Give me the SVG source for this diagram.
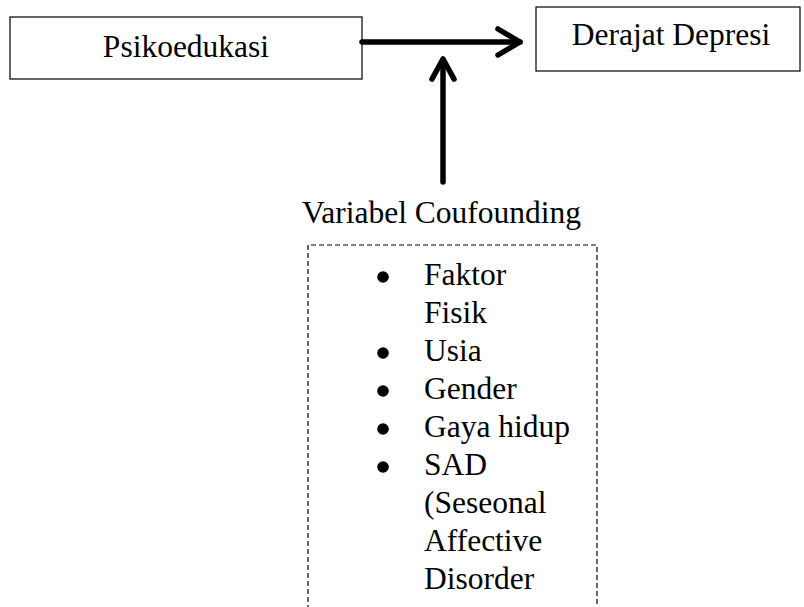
<svg xmlns="http://www.w3.org/2000/svg" width="804" height="607" viewBox="0 0 804 607">
<style>
.box{fill:#fff;stroke:#000;stroke-width:1.2}
.t{font-family:"Liberation Serif","Times New Roman",serif;font-size:31.5px;fill:#000}
.arrow{fill:none;stroke:#000;stroke-width:5.5;stroke-linecap:round;stroke-linejoin:round}
.dash{fill:none;stroke:#000;stroke-width:1.2;stroke-dasharray:5 3}
</style>
<rect width="804" height="607" fill="#fff"/>
<g id="psikoedukasi">
<rect class="box" x="10" y="17" width="352" height="62"/>
<text class="t" x="186" y="57" text-anchor="middle">Psikoedukasi</text>
</g>
<g id="derajat-depresi">
<rect class="box" x="536" y="7" width="264" height="64"/>
<text class="t" x="671" y="45" text-anchor="middle">Derajat Depresi</text>
</g>
<g id="connectors">
<line class="arrow" x1="362" y1="42" x2="520" y2="42"/>
<polyline class="arrow" points="498,29 520,42 498,55"/>
<line class="arrow" x1="443" y1="182" x2="443" y2="60"/>
<polyline class="arrow" points="432,79 443,59 454,79"/>
</g>
<g id="variabel-coufounding">
<text class="t" x="302" y="223">Variabel Coufounding</text>
<path class="dash" d="M308,610 V245 H597 V610"/>
<g fill="#000">
<circle cx="383" cy="277" r="5.8"/>
<circle cx="383" cy="353" r="5.8"/>
<circle cx="383" cy="391" r="5.8"/>
<circle cx="383" cy="429" r="5.8"/>
<circle cx="383" cy="467" r="5.8"/>
</g>
<text class="t" x="424" y="285">Faktor</text>
<text class="t" x="424" y="323">Fisik</text>
<text class="t" x="424" y="361">Usia</text>
<text class="t" x="424" y="399">Gender</text>
<text class="t" x="424" y="437">Gaya hidup</text>
<text class="t" x="424" y="475">SAD</text>
<text class="t" x="424" y="513">(Seseonal</text>
<text class="t" x="424" y="551">Affective</text>
<text class="t" x="424" y="589">Disorder</text>
</g>
</svg>
